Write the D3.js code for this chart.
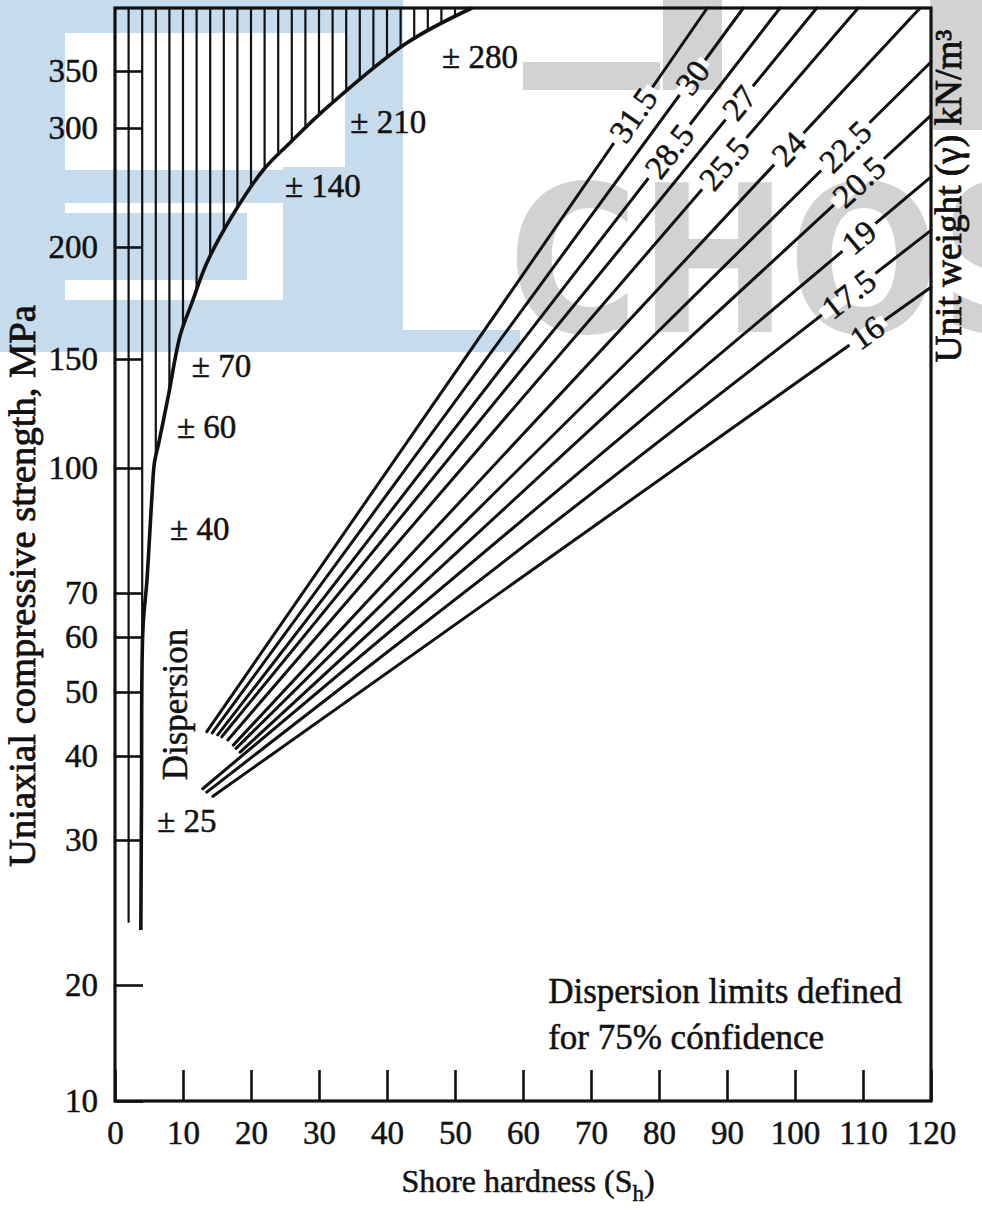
<!DOCTYPE html>
<html>
<head>
<meta charset="utf-8">
<script src="https://cdn.jsdelivr.net/npm/d3@7"></script>
<style>
  html, body { margin: 0; padding: 0; background: #fff; }
  svg { display: block; }
  text { font-family: "Liberation Serif", "Times New Roman", serif; fill: #111; stroke: #111; stroke-width: 0.5px; }
</style>
</head>
<body>
<script>
// ---- Data ---------------------------------------------------------------
const shoreTicks = [0, 10, 20, 30, 40, 50, 60, 70, 80, 90, 100, 110, 120];
const strengthTicks = [10, 20, 30, 40, 50, 60, 70, 100, 150, 200, 300, 350];

// Unit weight lines (kN/m3): lower and upper ends as (Shore hardness, UCS MPa)
const unitWeights    = ["31.5", "30", "28.5", "27", "25.5", "24", "22.5", "20.5", "19", "17.5", "16"];
const lineStartShore = [13.5, 14.3, 15.1, 15.7, 16.6, 17.4, 17.8, 18.4, 12.9, 13.5, 14.4];
const lineStartUcs   = [43.8, 43.6, 43.3, 43.0, 42.5, 41.7, 41.2, 40.6, 36.1, 35.7, 35.2];
const lineEndShore   = [87.1, 92.4, 97.8, 103.2, 109.3, 118.4, 120, 120, 120, 120, 120];
const lineEndUcs     = [420, 420, 420, 420, 420, 420, 360, 311, 259, 214, 182];
const labelShore     = [76.2, 84.9, 81.5, 91.8, 89.6, 99.1, 107.4, 109.4, 109.4, 107.9, 110.6];

// Dispersion boundary curve (Shore hardness, UCS MPa)
const curveShore = [3.8, 3.9, 4.1, 4.7, 5.4, 5.8, 6.4, 7.0, 7.9, 9.6, 11.3, 13.5, 17.4, 21.8, 25.7, 31.6, 42.9, 52.5];
const curveUcs   = [23.8, 34.8, 61.6, 73.1, 92.3, 102.5, 111.0, 120.0, 134.0, 160.7, 175, 192.9, 227.7, 264.7, 287.4, 320.2, 381.1, 420];

// Hatching inside the dispersion band
const hatchShore = [2, 4, 6, 8, 10, 12, 14, 16, 18, 20, 22, 24, 26, 28, 30, 32, 34, 36, 38, 40, 42, 44, 46, 48, 50, 52];
const hatchFloorUcs = 24.3;

// Dispersion values written along the band
const dispLabels = ["± 280", "± 210", "± 140", "± 70", "± 60", "± 40", "± 25"];
const dispShore  = [48.1, 34.6, 25.0, 11.3, 9.1, 8.1, 6.2];
const dispUcs    = [353, 295.8, 242, 141.7, 113.8, 82.7, 31];

// Note in the lower right
const noteLines = ["Dispersion limits defined", "for 75% cónfidence"];
const noteShore = 63.7;
const noteUcs   = [18.45, 14.5];

// ---- Layout -------------------------------------------------------------
const W = 982, H = 1214;
const frameL = 115, frameR = 931, frameT = 8, frameB = 1101;

const svg = d3.select("body").append("svg")
  .attr("width", W).attr("height", H)
  .attr("viewBox", `0 0 ${W} ${H}`);

// background mark (pale blue blocks and grey lettering)
const wm = svg.append("g").attr("class", "watermark");
const blue = "#c6dbec", grey = "#d2d2d2";
[[0, 0, 65, 352], [65, 0, 280, 33], [65, 170, 218, 33], [65, 213, 182, 67],
 [283, 167, 120, 185], [345, 0, 58, 167], [0, 300, 283, 52], [283, 330, 237, 22]]
  .forEach(r => wm.append("rect").attr("x", r[0]).attr("y", r[1])
    .attr("width", r[2]).attr("height", r[3]).attr("fill", blue));
[[523, 62, 137, 28], [663, 0, 59, 90], [930, 0, 52, 130]]
  .forEach(r => wm.append("rect").attr("x", r[0]).attr("y", r[1])
    .attr("width", r[2]).attr("height", r[3]).attr("fill", grey));
wm.append("text").attr("x", 508).attr("y", 332).text("CHOS")
  .attr("textLength", 560).attr("lengthAdjust", "spacingAndGlyphs")
  .style("font-family", "'DejaVu Sans', sans-serif").style("font-weight", "bold")
  .style("font-size", "205px").style("fill", grey).style("stroke", "none");

// Scales
const x = d3.scaleLinear().domain([0, 120]).range([frameL, frameR]);
// the strength axis is drawn with an irregular, hand-ruled spacing
const y = d3.scaleLinear()
  .domain([10, 20, 30, 40, 50, 60, 70, 100, 150, 200, 300, 350, 420])
  .range([1101, 985, 840, 756, 692, 637, 593, 468, 359, 247, 128, 71, 8]);

// Dispersion curve
const curvePts = curveShore.map((s, i) => [x(s), y(curveUcs[i])]);
const curvePath = svg.append("path")
  .attr("d", d3.line().curve(d3.curveCatmullRom.alpha(0.5))(curvePts))
  .attr("fill", "none").attr("stroke", "#111").attr("stroke-width", 3.6)
  .attr("stroke-linejoin", "round");

// sample the curve to find where each hatch line meets it
const pathNode = curvePath.node();
const totalLen = pathNode.getTotalLength();
const samples = d3.range(0, totalLen, 0.5).map(l => pathNode.getPointAtLength(l));
function curveYAt(px) {
  let best = samples[0], bd = Infinity;
  for (const p of samples) {
    const d = Math.abs(p.x - px);
    if (d < bd) { bd = d; best = p; }
  }
  return best.y;
}
svg.append("g").selectAll("line").data(hatchShore).join("line")
  .attr("x1", d => x(d)).attr("x2", d => x(d))
  .attr("y1", frameT)
  .attr("y2", d => d < curveShore[0] ? y(hatchFloorUcs) : curveYAt(x(d)))
  .attr("stroke", "#111").attr("stroke-width", 2.2);

// Unit weight lines
const uw = svg.append("g");
unitWeights.forEach((lab, i) => {
  uw.append("line")
    .attr("x1", x(lineStartShore[i])).attr("y1", y(lineStartUcs[i]))
    .attr("x2", x(lineEndShore[i])).attr("y2", y(lineEndUcs[i]))
    .attr("stroke", "#111").attr("stroke-width", 3).attr("stroke-linecap", "round");
});
// labels sit in a short break of their own line
unitWeights.forEach((lab, i) => {
  const x1 = x(lineStartShore[i]), y1 = y(lineStartUcs[i]);
  const x2 = x(lineEndShore[i]), y2 = y(lineEndUcs[i]);
  const lx = x(labelShore[i]);
  const ly = y1 + (y2 - y1) * (lx - x1) / (x2 - x1);
  const ang = Math.atan2(y2 - y1, x2 - x1) * 180 / Math.PI;
  const g = uw.append("g").attr("transform", `translate(${lx},${ly}) rotate(${ang})`);
  const t = g.append("text")
    .attr("text-anchor", "middle").attr("dy", "0.34em")
    .style("font-size", "33px")
    .text(lab);
  const bb = t.node().getBBox();
  g.insert("rect", "text")
    .attr("x", bb.x - 5).attr("y", -6)
    .attr("width", bb.width + 10).attr("height", 12)
    .attr("fill", "#fff");
});

// Frame
svg.append("rect").attr("x", frameL).attr("y", frameT)
  .attr("width", frameR - frameL).attr("height", frameB - frameT)
  .attr("fill", "none").attr("stroke", "#111").attr("stroke-width", 3.2);

// Axes
const yAxis = d3.axisLeft(y).tickValues(strengthTicks).tickFormat(d3.format("d"))
  .tickSizeInner(-28).tickSizeOuter(0).tickPadding(17);
const gy = svg.append("g").attr("transform", `translate(${frameL},0)`).call(yAxis);
gy.select(".domain").remove();
gy.selectAll(".tick line").attr("stroke", "#111").attr("stroke-width", 2.6);
gy.selectAll(".tick text").style("font-size", "33px").style("fill", "#111")
  .style("font-family", "'Liberation Serif', serif");

const xAxis = d3.axisBottom(x).tickValues(shoreTicks).tickFormat(d3.format("d"))
  .tickSizeInner(-31).tickSizeOuter(0).tickPadding(20);
const gx = svg.append("g").attr("transform", `translate(0,${frameB})`).call(xAxis);
gx.select(".domain").remove();
gx.selectAll(".tick line").attr("stroke", "#111").attr("stroke-width", 2.6);
gx.selectAll(".tick text").style("font-size", "33px").style("fill", "#111")
  .style("font-family", "'Liberation Serif', serif");

// Dispersion annotations
svg.append("g").selectAll("text").data(dispLabels).join("text")
  .attr("x", (d, i) => x(dispShore[i])).attr("y", (d, i) => y(dispUcs[i]))
  .style("font-size", "33px").text(d => d);
svg.append("text")
  .attr("transform", `translate(${x(10.6)},${y(37.1)}) rotate(-90)`)
  .style("font-size", "35px").text("Dispersion");

// Note
svg.append("g").selectAll("text").data(noteLines).join("text")
  .attr("x", x(noteShore)).attr("y", (d, i) => y(noteUcs[i]))
  .style("font-size", "35px").text(d => d);

// Axis titles
const xt = svg.append("text").attr("x", 528).attr("y", 1192)
  .attr("text-anchor", "middle").style("font-size", "32px");
xt.append("tspan").text("Shore hardness (S");
xt.append("tspan").attr("dy", 9).style("font-size", "23px").text("h");
xt.append("tspan").attr("dy", -9).text(")");

svg.append("text")
  .attr("transform", "translate(35,586) rotate(-90)")
  .attr("text-anchor", "middle").style("font-size", "38px").style("stroke-width", "0.8px")
  .attr("textLength", 562).attr("lengthAdjust", "spacingAndGlyphs")
  .text("Uniaxial compressive strength, MPa");

svg.append("text")
  .attr("transform", "translate(961,196) rotate(-90)")
  .attr("text-anchor", "middle").style("font-size", "37px").style("stroke-width", "0.8px")
  .attr("textLength", 333).attr("lengthAdjust", "spacingAndGlyphs")
  .text("Unit weight (γ) kN/m³");
</script>
</body>
</html>
